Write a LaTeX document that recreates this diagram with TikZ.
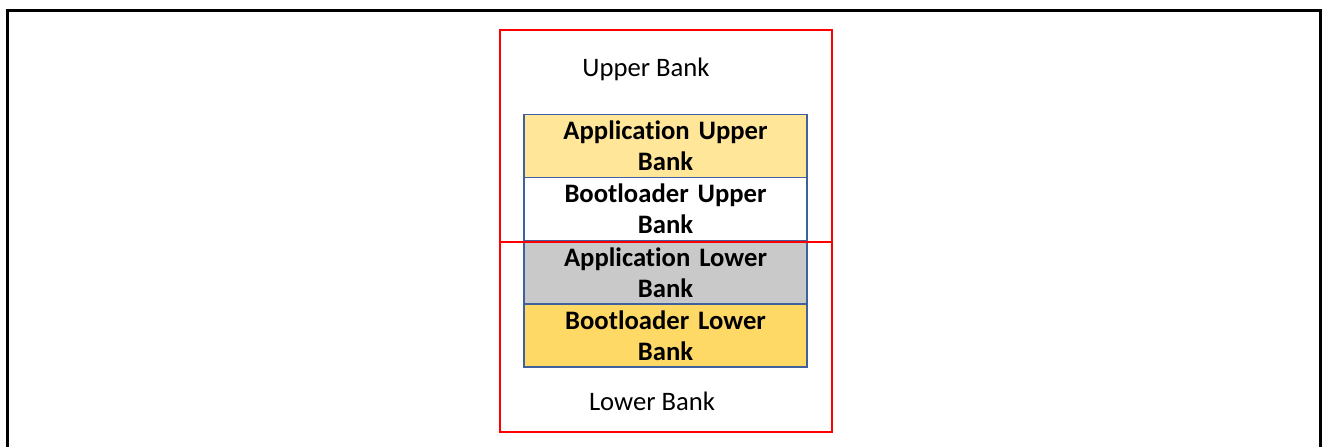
\documentclass[tikz,border=0pt]{standalone}
\usepackage{fontspec}
\setmainfont{Carlito}[Ligatures=NoCommon]
\usetikzlibrary{positioning}
\definecolor{appupper}{HTML}{FFE699}
\definecolor{applower}{HTML}{C9C9C9}
\definecolor{bootlower}{HTML}{FFD966}
\definecolor{boxline}{HTML}{41609E}
\definecolor{bankred}{HTML}{FF0000}
\tikzset{
  region/.style={draw=bankred, line width=2.1pt},
  membox/.style={draw=boxline, line width=1.3pt, minimum width=212.25pt,
    minimum height=47.4pt, text width=200pt, align=center, inner sep=0pt,
    outer sep=0pt, font=\fontsize{20}{23.3}\selectfont\bfseries},
  banklabel/.style={font=\fontsize{20}{24}\selectfont}
}
\begin{document}
\begin{tikzpicture}[x=0.75pt,y=-0.75pt]
    \useasboundingbox (0,0) rectangle (1328,447);
    % Marco
    \draw[line width=2.25pt] (7,447) -- (7,10) -- (1320,10) -- (1320,447);

    % Bloques de memoria
    \node[membox, fill=appupper] (appup) at (665.5,146) {Application Upper\\Bank};
    \node[membox, fill=white, below=0pt of appup] (bootup) {Bootloader Upper\\Bank};
    \node[membox, fill=applower, below=0pt of bootup] (applow) {Application Lower\\Bank};
    \node[membox, fill=bootlower, below=0pt of applow] (bootlow) {Bootloader Lower\\Bank};

    % Bancos
    \draw[region] (500,30) rectangle (832,242);
    \draw[region] (500,242) rectangle (832,432);
    \node[banklabel] (upperlbl) at (646,69) {Upper Bank};
    \node[banklabel] (lowerlbl) at (652,401) {Lower Bank};
\end{tikzpicture}
\end{document}
